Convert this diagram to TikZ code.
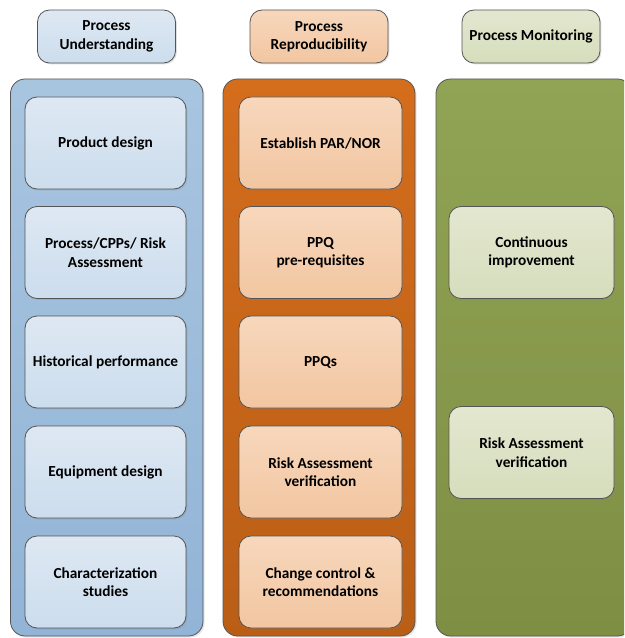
\documentclass[tikz,border=0pt]{standalone}
\usepackage{fontspec}
\setmainfont{Carlito}
\usepackage{tikz}
\usetikzlibrary{shadows}

\definecolor{blueTop}{RGB}{168,197,224}
\definecolor{blueBot}{RGB}{146,180,214}
\definecolor{blueLtTop}{RGB}{222,232,243}
\definecolor{blueLtBot}{RGB}{204,221,237}
\definecolor{orangeTop}{RGB}{212,109,28}
\definecolor{orangeBot}{RGB}{186,94,22}
\definecolor{orangeLtTop}{RGB}{247,215,188}
\definecolor{orangeLtBot}{RGB}{242,198,161}
\definecolor{greenTop}{RGB}{145,163,84}
\definecolor{greenBot}{RGB}{126,143,68}
\definecolor{greenLtTop}{RGB}{227,231,208}
\definecolor{greenLtBot}{RGB}{214,221,188}
\definecolor{edgeGray}{RGB}{85,85,85}

\tikzset{
  card/.style={draw=edgeGray, line width=0.6pt, rounded corners=9pt,
    align=center, font=\fontsize{11.5}{13.8}\selectfont\bfseries,
    drop shadow={shadow xshift=1pt, shadow yshift=-1pt, opacity=0.25}},
  lane/.style={draw=edgeGray, line width=0.6pt, rounded corners=11pt,
    minimum width=#1*0.75pt, minimum height=557*0.75pt, inner sep=0pt,
    drop shadow={shadow xshift=1.2pt, shadow yshift=-1.2pt, opacity=0.2}},
  headbox/.style={card, minimum width=138*0.75pt, minimum height=53*0.75pt},
  blueitem/.style={card, top color=blueLtTop, bottom color=blueLtBot,
    minimum width=161*0.75pt, minimum height=92*0.75pt},
  orangeitem/.style={card, top color=orangeLtTop, bottom color=orangeLtBot,
    minimum width=163*0.75pt, minimum height=92*0.75pt},
  greenitem/.style={card, top color=greenLtTop, bottom color=greenLtBot,
    minimum width=165*0.75pt, minimum height=92*0.75pt}
}

\begin{document}
\begin{tikzpicture}[x=0.75pt,y=0.75pt,yscale=-1]
\useasboundingbox (0,0) rectangle (624,638);
\clip (0,0) rectangle (624,638);

% Headers
\node [headbox, top color=blueLtTop, bottom color=blueLtBot] (hUnderstand) at (106.5,36.5) {Process\\Understanding};
\node [headbox, top color=orangeLtTop, bottom color=orangeLtBot] (hReproduce) at (319,36.5) {Process\\Reproducibility};
\node [headbox, top color=greenLtTop, bottom color=greenLtBot] (hMonitor) at (531,36.5) {Process Monitoring};

% Lanes
\node [lane=192.5, top color=blueTop, bottom color=blueBot] (laneUnderstand) at (106.75,357.5) {};
\node [lane=192, top color=orangeTop, bottom color=orangeBot] (laneReproduce) at (319,357.5) {};
\node [lane=196, top color=greenTop, bottom color=greenBot] (laneMonitor) at (534,357.5) {};

% Process Understanding items
\node [blueitem] (productDesign) at (105.5,143) {Product design};
\node [blueitem] (riskCPP) at (105.5,252.5) {Process/CPPs/ Risk\\Assessment};
\node [blueitem] (historical) at (105.5,362) {Historical performance};
\node [blueitem] (equipment) at (105.5,472) {Equipment design};
\node [blueitem] (characterization) at (105.5,582) {Characterization\\studies};

% Process Reproducibility items
\node [orangeitem] (parNor) at (320.5,143) {Establish PAR/NOR};
\node [orangeitem] (ppqPre) at (320.5,252.5) {PPQ\\pre-requisites};
\node [orangeitem] (ppqs) at (320.5,362) {PPQs};
\node [orangeitem] (riskVerifyR) at (320.5,472) {Risk Assessment\\verification};
\node [orangeitem] (changeControl) at (320.5,582) {Change control \&\\recommendations};

% Process Monitoring items
\node [greenitem] (continuous) at (531.5,252.5) {Continuous\\improvement};
\node [greenitem] (riskVerifyM) at (531.5,452.5) {Risk Assessment\\verification};
\end{tikzpicture}
\end{document}
